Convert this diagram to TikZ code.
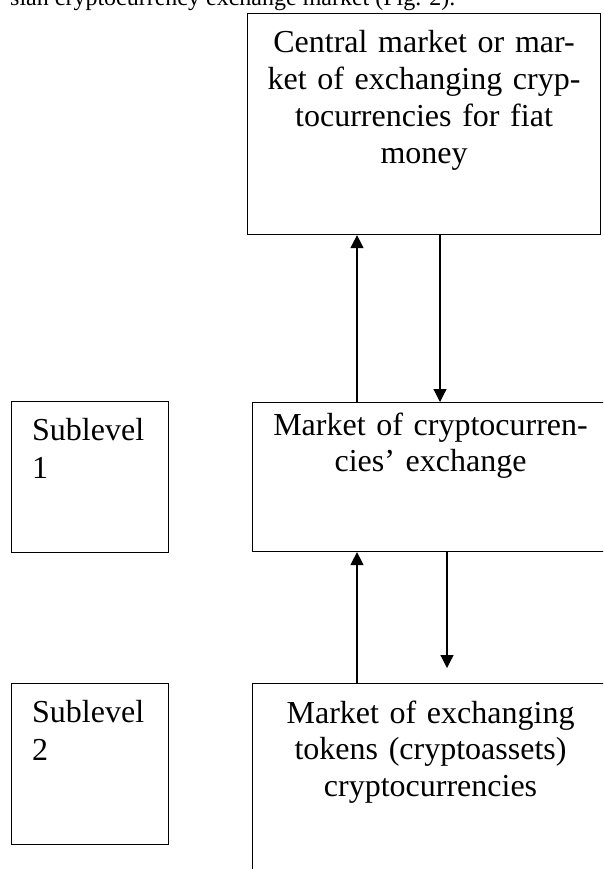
\documentclass[tikz,border=0pt]{standalone}
\usepackage{fontspec}
\setmainfont{Liberation Serif}
\usetikzlibrary{arrows.meta}

\tikzset{
	mktbox/.style={draw, line width=1.1pt, anchor=north west, inner sep=0pt},
	mkttext/.style={anchor=base, text width=340pt, align=center, inner sep=0pt, font=\fontsize{32}{36.8}\selectfont},
	subtext/.style={anchor=base west, text width=130pt, align=left, inner sep=0pt, font=\fontsize{32}{38}\selectfont},
	flow/.style={line width=1.2pt, -{Triangle[width=13pt,length=13pt]}}
}

\begin{document}
\begin{tikzpicture}[x=1pt,y=-1pt]
\useasboundingbox (0,0) rectangle (603,869);
\clip (0,0) rectangle (603,869);

\pgfmathsetmacro{\colUp}{357}
\pgfmathsetmacro{\colDn}{440}
\pgfmathsetmacro{\colDnB}{447}
\pgfmathsetmacro{\freeY}{668} %lower arrow stops short

% the line of the page above the figure
\node[anchor=base west, inner sep=0pt, font=\fontsize{24}{28}\selectfont] (intro) at (10,6) {sian cryptocurrency exchange market (Fig. 2).};

% market boxes
\node[mktbox, minimum width=353pt, minimum height=221pt] (central) at (247,13) {};
\node[mktbox, minimum width=356pt, minimum height=149pt] (exchange) at (252,402) {};
\node[mktbox, minimum width=356pt, minimum height=230pt] (tokens) at (252,683) {};

% sublevel boxes
\node[mktbox, minimum width=157pt, minimum height=151pt] (sub1) at (11,401) {};
\node[mktbox, minimum width=157pt, minimum height=161pt] (sub2) at (11,683) {};

\path (central.north) ++(0,40) node[mkttext] (centraltxt) {Central market or mar-\\ket of exchanging cryp-\\tocurrencies for fiat\\money};
\path (exchange.north) ++(0,33) node[mkttext] (exchangetxt) {Market of cryptocurren-\\cies’ exchange};
\path (tokens.north) ++(0,40) node[mkttext] (tokenstxt) {Market of exchanging\\tokens (cryptoassets)\\cryptocurrencies};
\path (sub1.north west) ++(21,39) node[subtext] (sub1txt) {Sublevel\\1};
\path (sub2.north west) ++(21,39) node[subtext] (sub2txt) {Sublevel\\2};

\coordinate (upcol) at (\colUp,0);
\coordinate (dncol) at (\colDn,0);
\coordinate (dncolb) at (\colDnB,0);
\coordinate (freeend) at (\colDnB,\freeY);

\draw[flow] (exchange.north -| upcol) -- (central.south -| upcol);
\draw[flow] (central.south -| dncol) -- (exchange.north -| dncol);
\draw[flow] (tokens.north -| upcol) -- (exchange.south -| upcol);
\draw[flow] (exchange.south -| dncolb) -- (freeend);
\end{tikzpicture}
\end{document}
